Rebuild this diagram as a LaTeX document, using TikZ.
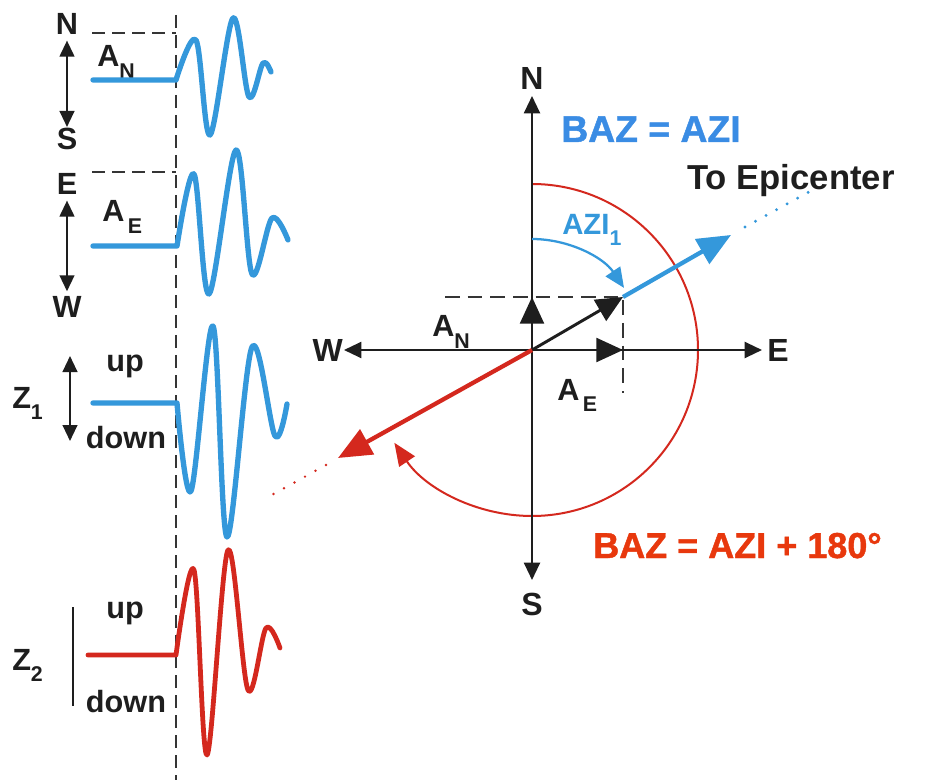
\documentclass[tikz,border=0pt]{standalone}
\usepackage{fontspec}
\setmainfont{Liberation Sans}
\newfontfamily\heavyfont[FakeBold=1.2]{Liberation Sans Bold}
\usetikzlibrary{arrows.meta}
\definecolor{wblue}{RGB}{52,152,219}
\definecolor{wred}{RGB}{212,40,30}
\definecolor{tblue}{RGB}{58,140,228}
\definecolor{tred}{RGB}{232,56,13}
\definecolor{ink}{RGB}{30,30,30}
\newcommand{\sub}[2]{#1\raisebox{-0.36em}{\fontsize{16}{16}\selectfont #2}}
\begin{document}
\begin{tikzpicture}[x=0.75pt,y=-0.75pt,
  lbl/.style={font=\fontsize{23}{25}\selectfont\bfseries, inner sep=0pt, text=ink},
  big/.style={font=\fontsize{24}{26}\selectfont\bfseries, inner sep=0pt, text=ink},
  wave/.style={line width=4pt, line cap=round, line join=round},
  dbl/.style={line width=1.6pt, draw=ink, {Triangle[length=12pt,width=11pt]}-{Triangle[length=12pt,width=11pt]}},
  ax/.style={line width=1.6pt, draw=ink, -{Triangle[length=13pt,width=12pt]}},
  comp/.style={line width=1.7pt, draw=ink, -{Triangle[length=20pt,width=18pt]}},
  dsh/.style={line width=1.7pt, draw=ink!90, dash pattern=on 10pt off 5pt},
  dots/.style={line width=2.4pt, line cap=round, dash pattern=on 0pt off 9pt},
]
\useasboundingbox (0,0) rectangle (931,780);
\fill[white] (0,0) rectangle (931,780);

% ---------- left: seismograms ----------
\draw[dsh] (176,15) -- (176,780);
\draw[dsh] (92,33) -- (176,33);
\draw[dsh] (92,172) -- (176,172);

\node[lbl, anchor=base] (lN) at (67,35) {N};
\node[lbl, anchor=base] (lS) at (67,150) {S};
\node[lbl, anchor=base] (lE) at (67,195) {E};
\node[lbl, anchor=base] (lW) at (67,318) {W};
\draw[dbl] ([yshift=-4pt]lN.south) -- ([yshift=1pt]lS.north);
\draw[dbl] ([yshift=-4pt]lE.south) -- ([yshift=4pt]lW.north);

\node[lbl, anchor=base west] (aN) at (97,67) {\sub{A}{N}};
\node[lbl, anchor=base west] (aE) at (102,222) {\sub{A}{\,E}};

\node[lbl, anchor=base west] (z1) at (12,408) {\sub{Z}{1}};
\node[lbl, anchor=base] (up1) at (125,372) {up};
\node[lbl, anchor=base] (dn1) at (126,448) {down};
\coordinate (z1t) at (70,356);
\coordinate (z1b) at (70,441);
\draw[dbl] (z1t) -- (z1b);

\node[lbl, anchor=base west] (z2) at (12,670) {\sub{Z}{2}};
\node[lbl, anchor=base] (up2) at (125,618) {up};
\node[lbl, anchor=base] (dn2) at (126,712) {down};
\coordinate (z2t) at (73,607);
\coordinate (z2b) at (73,706);
\draw[line width=1.6pt, draw=ink] (z2t) -- (z2b);

% waves
\draw[wave, wblue] (93,80) -- (176,80)
  plot[smooth, tension=0.55] coordinates {(176,80) (196,40) (210,135) (233,18) (249,97) (263,63) (271,72)};
\draw[wave, wblue] (93,246) -- (177,246)
  plot[smooth, tension=0.55] coordinates {(177,246) (194,174) (209,294) (236,150) (252,274) (272,218) (288,240)};
\draw[wave, wblue] (93,403) -- (177,403)
  plot[smooth, tension=0.55] coordinates {(177,403) (191,491) (213,326) (227,537) (252,347) (275,436) (287,404)};
\draw[wave, wred, line width=3.6pt] (88,655) -- (176,655)
  plot[smooth, tension=0.55] coordinates {(176,655) (194,570) (207,755) (228,550) (248,690) (266,628) (280,648)};

% ---------- right: compass ----------
\coordinate (O) at (532,350);
\coordinate (tN) at (532,96);
\coordinate (tS) at (532,580);
\coordinate (tW) at (344,350);
\coordinate (tE) at (762,350);
\coordinate (pN) at (532,297);
\coordinate (pE) at (623,350);
\coordinate (R) at (623,297);

% red arc (behind)
\draw[wred, line width=1.5pt, -{Triangle[length=17pt,width=14pt]}]
  (O) ++(-90:166) arc[start angle=-90, end angle=146, radius=166];

\draw[dsh, dash pattern=on 11pt off 6pt] (445,297) -- (R) -- (623,393);

\draw[ax] (O) -- (tN);
\draw[ax] (O) -- (tS);
\draw[ax] (O) -- (tW);
\draw[ax] (O) -- (tE);

\node[big, anchor=base] (cN) at (532,90) {N};
\node[big, anchor=base] (cS) at (532,615) {S};
\node[big, anchor=east] (cW) at (343,350) {W};
\node[big, anchor=west] (cE) at (767,350) {E};

% blue arc AZI
\draw[wblue, line width=1.7pt, -{Triangle[length=15pt,width=13pt]}]
  (O) ++(-90:111) arc[start angle=-90, end angle=-34, radius=111];
\node[font=\fontsize{22}{24}\selectfont\bfseries, inner sep=0pt, text=wblue, anchor=base west] (azi) at (562,235) {\sub{AZI}{1}};

% black component arrows
\draw[comp] (O) -- (pN);
\draw[comp] (O) -- (pE);
\draw[comp, line width=2.2pt] (O) -- (R);

% blue to epicenter
\coordinate (bT) at (731,235);
\coordinate (bD1) at (745,227);
\coordinate (bD2) at (816,188);
\draw[wblue, line width=3.2pt, -{Triangle[length=25pt,width=21pt]}] (R) -- (bT);
\draw[wblue, dots] (bD1) -- (bD2);

% red back azimuth
\coordinate (rT) at (338,458);
\coordinate (rD1) at (326,465);
\coordinate (rD2) at (270,496);
\draw[wred, line width=3.2pt, -{Triangle[length=25pt,width=21pt]}] (O) -- (rT);
\draw[wred, dots, line width=2pt] (rD1) -- (rD2);

\node[lbl, anchor=base west] (cAN) at (432,337) {\sub{A}{N}};
\node[lbl, anchor=base west] (cAE) at (557,400) {\sub{A}{\,E}};

% texts
\node[inner sep=0pt, anchor=base west, text=tblue, font=\fontsize{28}{30}\selectfont\heavyfont] (baz1) at (561,142) {BAZ = AZI};
\node[inner sep=0pt, anchor=base west, text=ink, font=\fontsize{26}{28}\selectfont\bfseries] (epi) at (687,190) {To Epicenter};
\node[inner sep=0pt, anchor=base west, text=tred, font=\fontsize{27}{29}\selectfont\heavyfont] (baz2) at (593,558) {BAZ = AZI + 180°};
\end{tikzpicture}
\end{document}
